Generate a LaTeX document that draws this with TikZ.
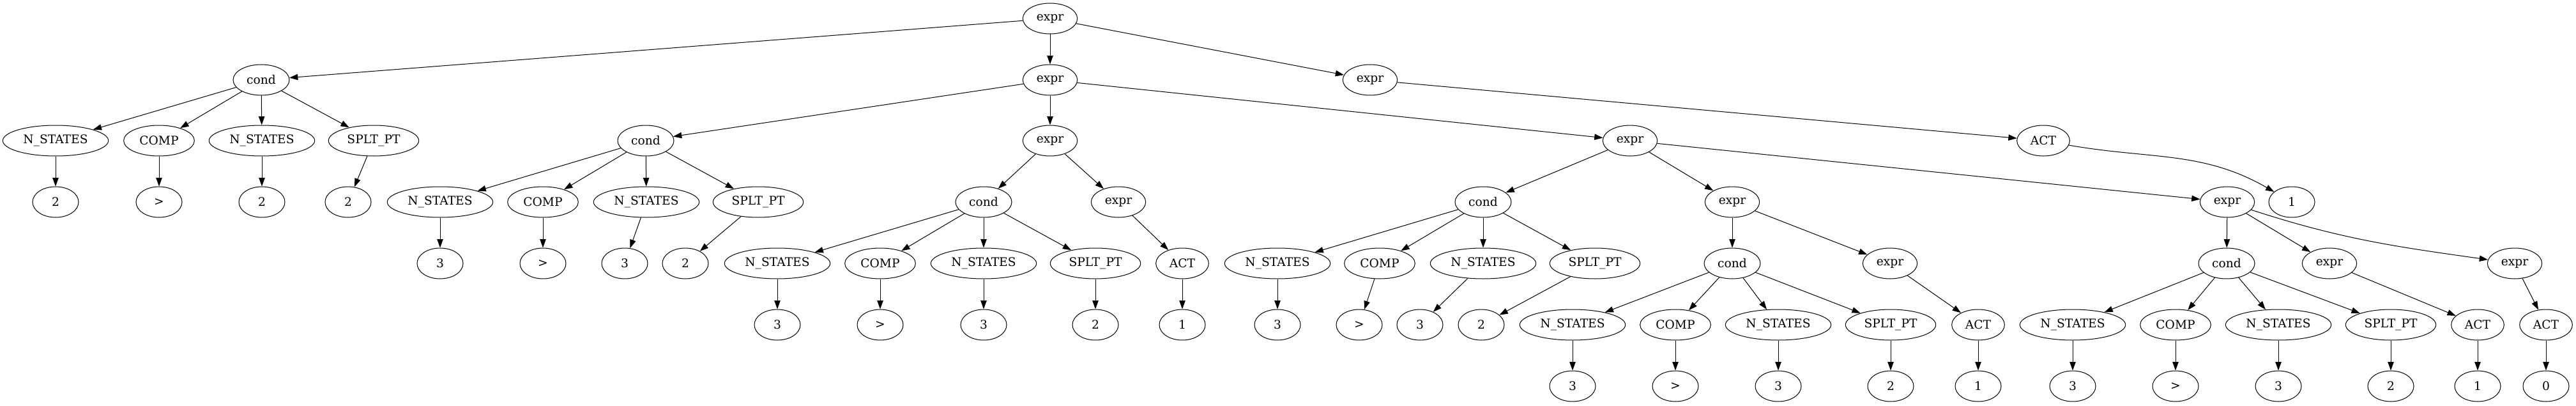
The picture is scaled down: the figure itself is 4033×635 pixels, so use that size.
\documentclass[tikz,border=0pt]{standalone}
\usepackage{fontspec}
\setmainfont{DejaVu Serif}
\usetikzlibrary{shapes.geometric,arrows.meta}
\tikzset{
  gnode/.style={draw, ellipse, inner sep=0pt, line width=0.75pt, minimum height=36pt, font=\fontsize{14}{16}\selectfont},
  nsb/.style={gnode, minimum width=124pt},
  compb/.style={gnode, minimum width=83pt},
  spltb/.style={gnode, minimum width=106pt},
  condb/.style={gnode, minimum width=66pt},
  exprb/.style={gnode, minimum width=64pt},
  actb/.style={gnode, minimum width=62pt},
  valb/.style={gnode, minimum width=54pt},
  edge/.style={draw, line width=0.75pt, -{Triangle[length=10pt,width=7pt]}}
}
\begin{document}
\begin{tikzpicture}[x=0.75pt, y=-0.75pt]
\useasboundingbox (0,0) rectangle (4033,635);
% level 0
\node[exprb] (r) at (1644,29) {expr};
% level 1
\node[condb] (a) at (409,125) {cond};
\node[exprb] (b) at (1644,125) {expr};
\node[exprb] (l) at (2145,125) {expr};
% subtree a
\node[nsb] (a1) at (87,220) {N\_STATES};
\node[compb] (a2) at (249,220) {COMP};
\node[nsb] (a3) at (410,220) {N\_STATES};
\node[spltb] (a4) at (585,220) {SPLT\_PT};
\node[valb] (a1v) at (87,316) {2};
\node[valb] (a2v) at (249,316) {>};
\node[valb] (a3v) at (410,316) {2};
\node[valb] (a4v) at (545,316) {2};
% subtree b
\node[condb] (c) at (1011,220) {cond};
\node[exprb] (d) at (1644,220) {expr};
\node[exprb] (g) at (2552,220) {expr};
\node[nsb] (c1) at (689,316) {N\_STATES};
\node[compb] (c2) at (850,316) {COMP};
\node[nsb] (c3) at (1012,316) {N\_STATES};
\node[spltb] (c4) at (1187,316) {SPLT\_PT};
\node[valb] (c1v) at (689,412) {3};
\node[valb] (c2v) at (850,412) {>};
\node[valb] (c3v) at (978,412) {3};
\node[valb] (c4v) at (1073,412) {2};
% subtree d
\node[condb] (e) at (1540,316) {cond};
\node[exprb] (f) at (1751,316) {expr};
\node[nsb] (e1) at (1217,412) {N\_STATES};
\node[compb] (e2) at (1378,412) {COMP};
\node[nsb] (e3) at (1540,412) {N\_STATES};
\node[spltb] (e4) at (1715,412) {SPLT\_PT};
\node[valb] (e1v) at (1217,508) {3};
\node[valb] (e2v) at (1378,508) {>};
\node[valb] (e3v) at (1540,508) {3};
\node[valb] (e4v) at (1715,508) {2};
\node[actb] (fa) at (1851,412) {ACT};
\node[valb] (fav) at (1851,508) {1};
% subtree g
\node[condb] (h) at (2322,316) {cond};
\node[exprb] (i) at (2712,316) {expr};
\node[exprb] (m) at (3487,316) {expr};
\node[nsb] (h1) at (2000,412) {N\_STATES};
\node[compb] (h2) at (2160,412) {COMP};
\node[nsb] (h3) at (2322,412) {N\_STATES};
\node[spltb] (h4) at (2497,412) {SPLT\_PT};
\node[valb] (h1v) at (2000,508) {3};
\node[valb] (h2v) at (2128,508) {>};
\node[valb] (h3v) at (2223,508) {3};
\node[valb] (h4v) at (2319,508) {2};
\node[condb] (j) at (2712,412) {cond};
\node[exprb] (k) at (2959,412) {expr};
\node[nsb] (j1) at (2462,508) {N\_STATES};
\node[compb] (j2) at (2623,508) {COMP};
\node[nsb] (j3) at (2784,508) {N\_STATES};
\node[spltb] (j4) at (2960,508) {SPLT\_PT};
\node[valb] (j1v) at (2462,604) {3};
\node[valb] (j2v) at (2623,604) {>};
\node[valb] (j3v) at (2784,604) {3};
\node[valb] (j4v) at (2960,604) {2};
\node[actb] (ka) at (3097,508) {ACT};
\node[valb] (kav) at (3097,604) {1};
% subtree m
\node[condb] (n) at (3486,412) {cond};
\node[exprb] (o) at (3647,412) {expr};
\node[exprb] (p) at (3937,412) {expr};
\node[nsb] (n1) at (3245,508) {N\_STATES};
\node[compb] (n2) at (3406,508) {COMP};
\node[nsb] (n3) at (3567,508) {N\_STATES};
\node[spltb] (n4) at (3743,508) {SPLT\_PT};
\node[valb] (n1v) at (3245,604) {3};
\node[valb] (n2v) at (3406,604) {>};
\node[valb] (n3v) at (3567,604) {3};
\node[valb] (n4v) at (3743,604) {2};
\node[actb] (oa) at (3879,508) {ACT};
\node[valb] (oav) at (3879,604) {1};
\node[actb] (pa) at (3986,508) {ACT};
\node[valb] (pav) at (3986,604) {0};
% subtree l
\node[actb] (la) at (3199,220) {ACT};
\node[valb] (lav) at (3588,316) {1};
% edges
\foreach \s/\t in {r/a, r/b, r/l,
  a/a1, a/a2, a/a3, a/a4, a1/a1v, a2/a2v, a3/a3v, a4/a4v,
  b/c, b/d, b/g,
  c/c1, c/c2, c/c3, c/c4, c1/c1v, c2/c2v, c3/c3v, c4/c4v,
  d/e, d/f, e/e1, e/e2, e/e3, e/e4, e1/e1v, e2/e2v, e3/e3v, e4/e4v, f/fa, fa/fav,
  g/h, g/i, g/m, h/h1, h/h2, h/h3, h/h4, h1/h1v, h2/h2v, h3/h3v, h4/h4v,
  i/j, i/k, j/j1, j/j2, j/j3, j/j4, j1/j1v, j2/j2v, j3/j3v, j4/j4v, k/ka, ka/kav,
  m/n, m/o, n/n1, n/n2, n/n3, n/n4, n1/n1v, n2/n2v, n3/n3v, n4/n4v, o/oa, oa/oav, p/pa, pa/pav,
  l/la}
  \path[edge] (\s) -- (\t);
\path[edge] (m) to[out=-18, in=172] (p);
\path[edge] (la) to[out=-10, in=150] (lav);
\end{tikzpicture}
\end{document}
